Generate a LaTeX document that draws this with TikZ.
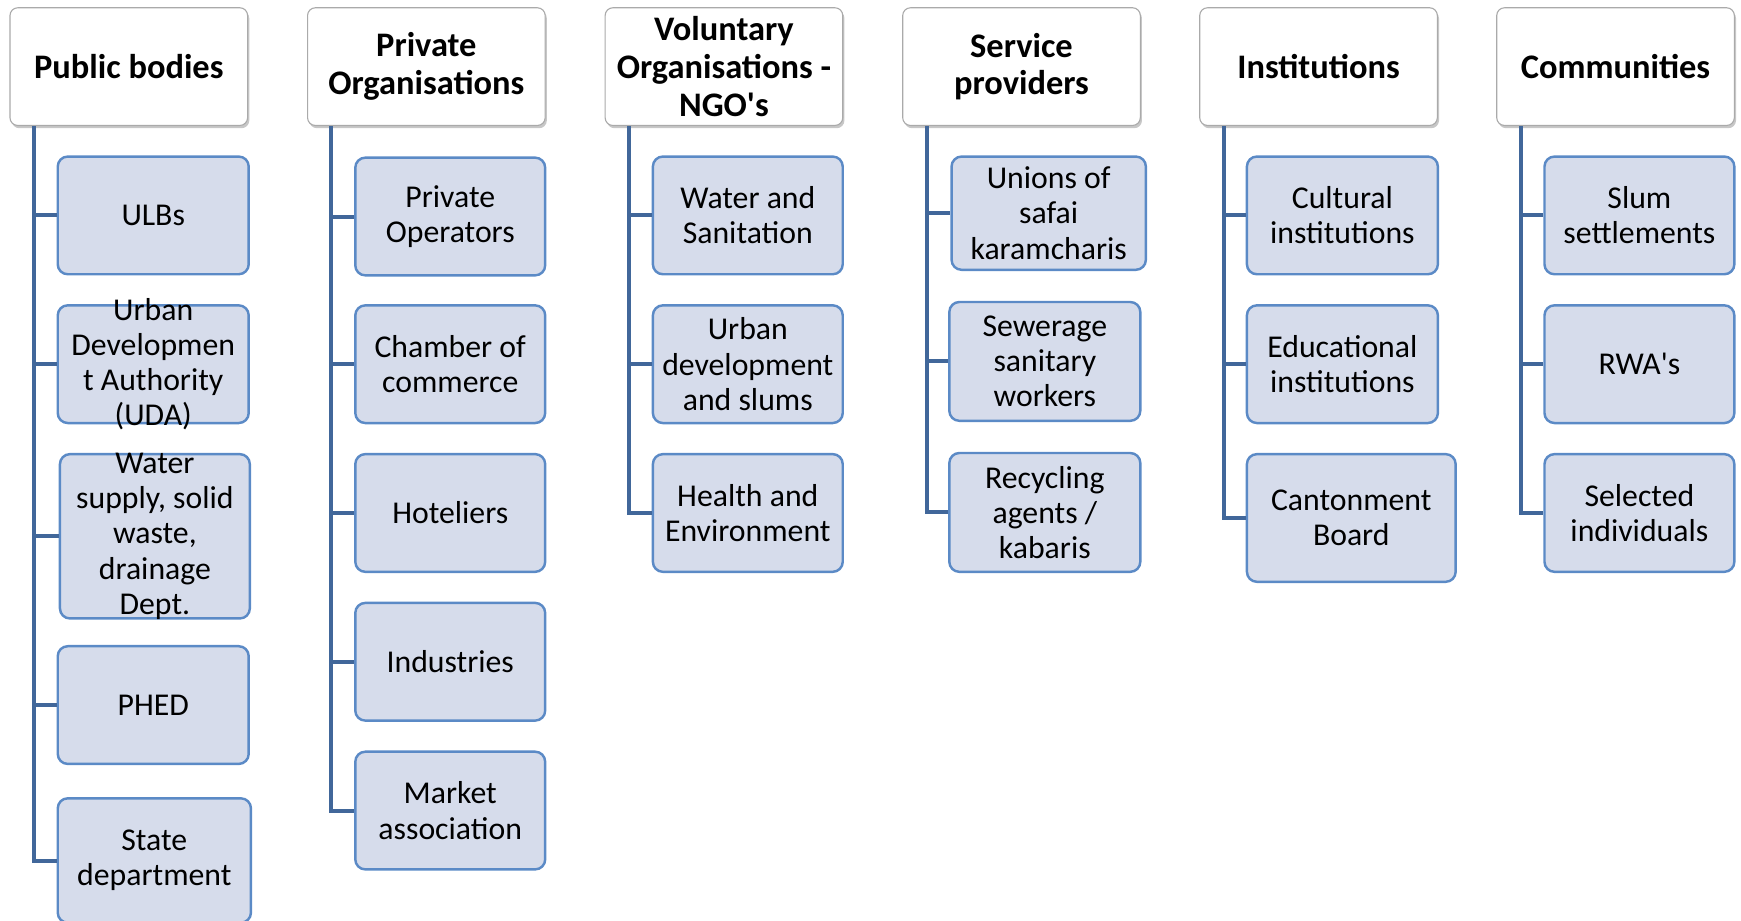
\documentclass[tikz,border=0pt]{standalone}
\usepackage{fontspec}
\setmainfont{Carlito}
\usetikzlibrary{shadows}

\definecolor{leaffill}{RGB}{214,220,235}
\definecolor{leafedge}{RGB}{91,138,198}
\definecolor{connblue}{RGB}{65,103,154}
\definecolor{headedge}{RGB}{170,170,170}

\tikzset{
  head/.style={draw=headedge, line width=1pt, fill=white, rounded corners=7pt,
    minimum width=214pt, minimum height=106pt, inner sep=0pt, align=center,
    font=\fontsize{31}{34}\selectfont\bfseries,
    drop shadow={shadow xshift=1.5pt, shadow yshift=-2.5pt, fill=black, opacity=0.22}},
  leaf/.style={draw=leafedge, line width=2.2pt, fill=leaffill, rounded corners=9pt, inner sep=0pt},
  leaftext/.style={align=center, inner sep=0pt, font=\fontsize{28.6}{31.7}\selectfont},
  conn/.style={draw=connblue, line width=3.6pt}
}

% \leafbox{name}{x}{y}{width}{height}{text}: a rounded box with centred text
\newcommand{\leafbox}[6]{%
  \node[leaf, minimum width=#4pt, minimum height=#5pt] (#1) at (#2pt,-#3pt) {};
  \node[leaftext] (#1-t) at (#1.center) {#6};
}
% \stakeholder{name}{x}{text}: a white category heading
\newcommand{\stakeholder}[3]{%
  \node[head] (#1) at (#2pt,-60pt) {#3};
}

\begin{document}
\begin{tikzpicture}
\useasboundingbox (0,0) rectangle (1568pt,-829pt);

% category headings
\stakeholder{h1}{116}{Public bodies}
\stakeholder{h2}{384}{Private\\Organisations}
\stakeholder{h3}{652}{Voluntary\\Organisations -\\NGO\textquotesingle s}
\stakeholder{h4}{920}{Service\\providers}
\stakeholder{h5}{1187.5}{Institutions}
\stakeholder{h6}{1455}{Communities}

% Public bodies
\leafbox{u1}{138}{194}{172}{106}{ULBs}
\leafbox{u2}{138}{328}{172}{106}{Urban\\Developmen\\t Authority\\(UDA)}
\leafbox{u3}{139.5}{483}{171}{148}{Water\\supply, solid\\waste,\\drainage\\Dept.}
\leafbox{u4}{138}{635}{172}{106}{PHED}
\leafbox{u5}{139}{775}{174}{112}{State\\department}

% Private organisations
\leafbox{p1}{405.5}{195}{171}{106}{Private\\Operators}
\leafbox{p2}{405.5}{328}{171}{106}{Chamber of\\commerce}
\leafbox{p3}{405.5}{462}{171}{106}{Hoteliers}
\leafbox{p4}{405.5}{596}{171}{106}{Industries}
\leafbox{p5}{405.5}{730}{171}{106}{Market\\association}

% Voluntary organisations
\leafbox{v1}{673.5}{194}{171}{106}{Water and\\Sanitation}
\leafbox{v2}{673.5}{328}{171}{106}{Urban\\development\\and slums}
\leafbox{v3}{673.5}{462}{171}{106}{Health and\\Environment}

% Service providers
\leafbox{s1}{944.5}{192}{175}{102}{Unions of\\safai\\karamcharis}
\leafbox{s2}{941}{325.5}{172}{107}{Sewerage\\sanitary\\workers}
\leafbox{s3}{941}{461.5}{172}{107}{Recycling\\agents /\\kabaris}

% Institutions
\leafbox{i1}{1209}{194}{172}{106}{Cultural\\institutions}
\leafbox{i2}{1209}{328}{172}{106}{Educational\\institutions}
\leafbox{i3}{1217}{466.5}{188}{115}{Cantonment\\Board}

% Communities
\leafbox{c1}{1476.5}{194}{171}{106}{Slum\\settlements}
\leafbox{c2}{1476.5}{328}{171}{106}{RWA\textquotesingle s}
\leafbox{c3}{1476.5}{462}{171}{106}{Selected\\individuals}

% tree connectors: a trunk below each heading with a stub to every box
\foreach \h/\kids in {h1/{u1,u2,u3,u4,u5}, h2/{p1,p2,p3,p4,p5}, h3/{v1,v2,v3},
                      h4/{s1,s2,s3}, h5/{i1,i2,i3}, h6/{c1,c2,c3}} {
  \foreach \k in \kids {
    \draw[conn] ([xshift=22pt]\h.south west) |- (\k.west);
  }
}
\end{tikzpicture}
\end{document}
